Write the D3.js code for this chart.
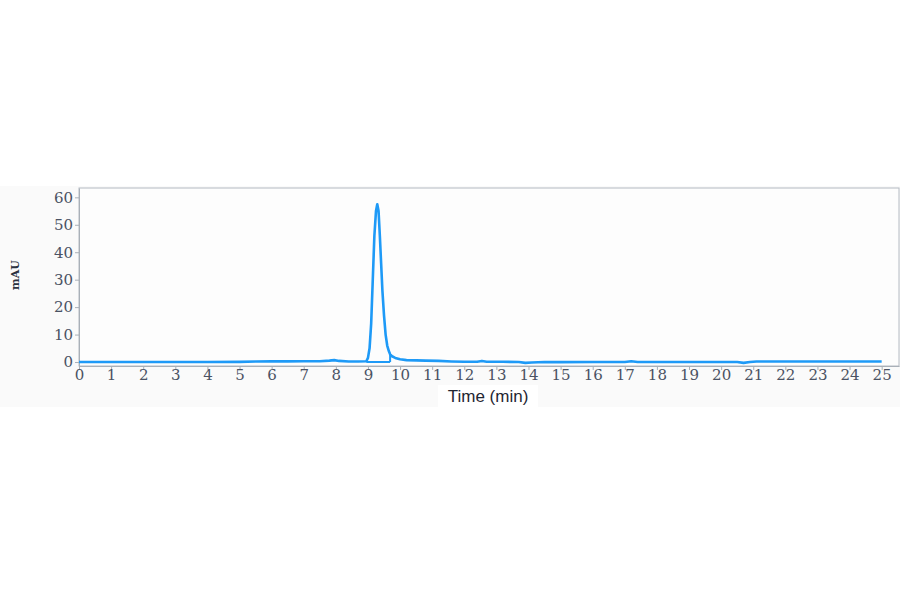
<!DOCTYPE html>
<html><head><meta charset="utf-8">
<script src="https://cdn.jsdelivr.net/npm/d3@7"></script>
<style>body{margin:0;background:#fff}svg{display:block}</style>
</head><body><svg id="c" width="900" height="594"></svg>
<script>
// Chromatogram trace: retention time (min) and absorbance (mAU)
const times = [0,1,2,3,4,5,5.5,6,6.5,7,7.5,7.8,7.95,8.1,8.4,8.7,8.95,9.0,9.05,9.1,9.15,9.2,9.25,9.29,9.33,9.37,9.41,9.45,9.5,9.55,9.6,9.65,9.69,9.75,9.85,10.0,10.2,10.5,10.8,11.2,11.6,12.0,12.4,12.55,12.7,13.2,13.7,13.9,14.1,14.5,15,16,17.0,17.2,17.4,18,19,20,20.5,20.7,20.9,21.1,21.3,22,23,24,25];
const mau   = [0,0,0,0,0,0.05,0.2,0.25,0.25,0.3,0.3,0.5,0.7,0.4,0.2,0.2,0.3,1.5,5,14,30,46,55,57.5,55,46,36,26,17,10,6,4,2.8,2.1,1.5,1.0,0.7,0.6,0.5,0.4,0.2,0.1,0.1,0.4,0.1,0.1,0,-0.3,-0.2,0,-0.05,0,0,0.3,0,0,0,0,0,-0.3,0,0.2,0.2,0.2,0.2,0.2,0.2];
const xTicks = d3.range(0, 26);
const yTicks = [0,10,20,30,40,50,60];
const dropTime = 9.69, dropValue = 2.8;
const baseStart = 8.95;

const svg = d3.select("#c");
const L = 79, R = 899, T = 188, B = 366;
const x = d3.scaleLinear().domain([0, 25.54]).range([L, R]);
const y = d3.scaleLinear().domain([-1.45, 63.4]).range([B, T]);

svg.append("rect").attr("x",0).attr("y",186).attr("width",900).attr("height",221).attr("fill","#fafafa");
svg.append("rect").attr("x",L).attr("y",T).attr("width",R-L).attr("height",B-T).attr("fill","#fdfdfd").attr("stroke","#b4bac2").attr("stroke-width",1);

const xa = svg.append("g").attr("transform",`translate(0,${B})`)
  .call(d3.axisBottom(x).tickValues(xTicks).tickSize(4).tickSizeOuter(0).tickFormat(d3.format("d")));
const ya = svg.append("g").attr("transform",`translate(${L},0)`)
  .call(d3.axisLeft(y).tickValues(yTicks).tickSize(4).tickSizeOuter(0));
[xa, ya].forEach(a => {
  a.select(".domain").attr("stroke","#a9b0b8");
  a.selectAll(".tick line").attr("stroke","#a9b0b8");
  a.selectAll(".tick text").attr("fill","#4a5263").attr("font-family","DejaVu Serif, serif").attr("font-size",15);
});
xa.selectAll(".tick text").attr("dy","0.55em").attr("y",6);
ya.selectAll(".tick text").attr("x",-6);

const line = d3.line().x((d,i)=>x(times[i])).y(d=>y(d));
svg.append("path").datum(mau).attr("d", line).attr("fill","none")
  .attr("stroke","#1e9af7").attr("stroke-width",2.6).attr("stroke-linejoin","round");
// integration baseline and drop line
svg.append("line").attr("x1",x(baseStart)).attr("x2",x(dropTime)).attr("y1",y(0)).attr("y2",y(0))
  .attr("stroke","#1e9af7").attr("stroke-width",2);
svg.append("line").attr("x1",x(dropTime)).attr("x2",x(dropTime)).attr("y1",y(0)).attr("y2",y(dropValue))
  .attr("stroke","#1e9af7").attr("stroke-width",2);

svg.append("rect").attr("x",438).attr("y",385).attr("width",100).attr("height",22).attr("fill","#fff");
svg.append("text").attr("x",488).attr("y",402).attr("text-anchor","middle")
  .attr("font-family","Liberation Sans, Arial, sans-serif").attr("font-size",17).attr("fill","#1f2633").text("Time (min)");
svg.append("text").attr("transform","translate(19,275) rotate(-90)").attr("text-anchor","middle")
  .attr("font-family","DejaVu Serif, serif").attr("font-weight","bold").attr("font-size",11).attr("fill","#2b3240").text("mAU");
</script></body></html>
